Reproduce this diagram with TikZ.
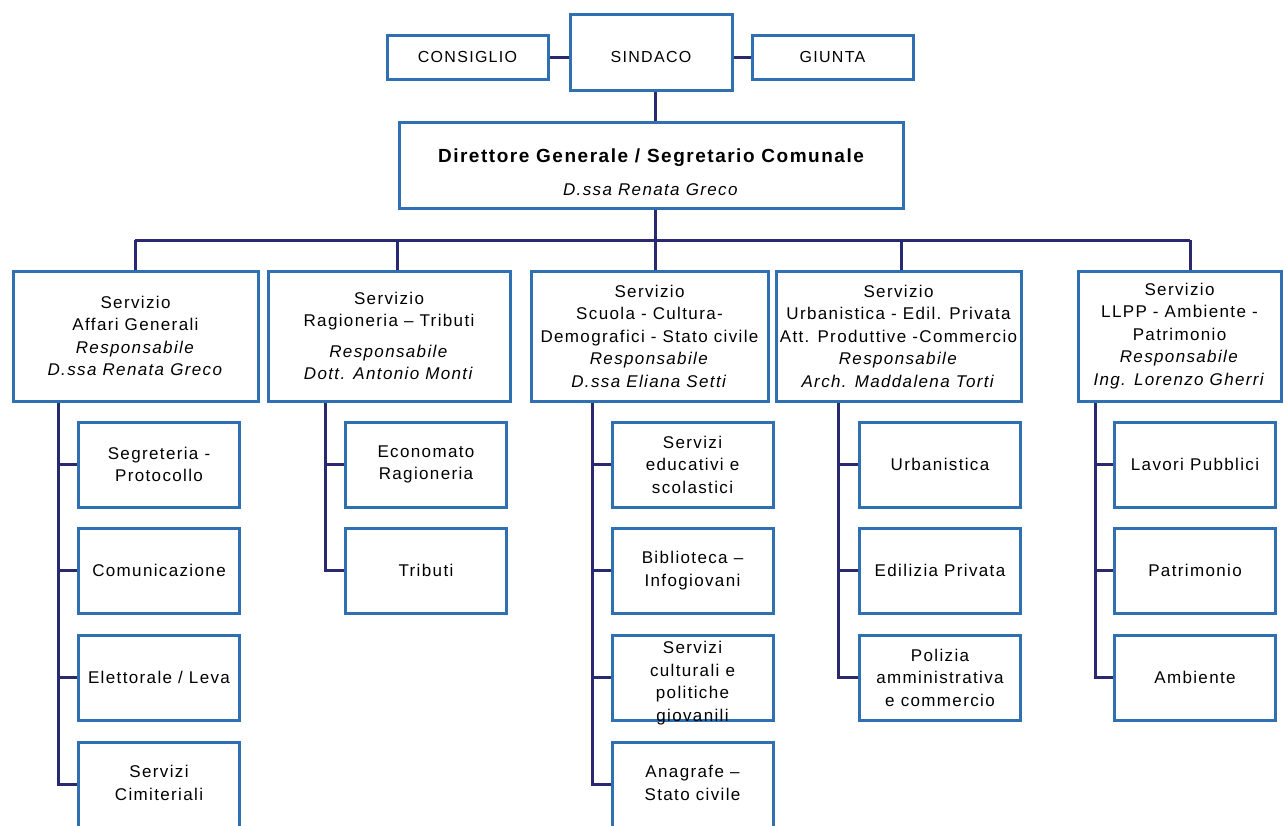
\documentclass[tikz,border=0pt]{standalone}
\usepackage{fontspec}
\setmainfont{Liberation Sans}[LetterSpace=8]
\usetikzlibrary{backgrounds}
\definecolor{boxblue}{RGB}{46,112,178}
\definecolor{linenavy}{RGB}{42,40,110}
\begin{document}
\begin{tikzpicture}[x=1pt,y=-1pt,
  box/.style={draw=boxblue, line width=3pt, fill=white, inner sep=1pt, align=center,
              font=\fontsize{17}{22.5}\selectfont},
  topbox/.style={box, font=\fontsize{16}{19}\selectfont},
  svc/.style={box, minimum height=130pt},
  sub/.style={box, minimum width=161pt, minimum height=85pt},
  conn/.style={draw=linenavy, line width=3pt}]
\useasboundingbox (0,0) rectangle (1284,825);
\clip (0,0) rectangle (1284,825);

% top row
\node[topbox, minimum width=161pt, minimum height=44pt] (consiglio) at (467.5,57) {CONSIGLIO};
\node[topbox, minimum width=162pt, minimum height=76pt] (sindaco) at (651,52) {\raisebox{-5pt}[\height][\depth]{SINDACO}};
\node[topbox, minimum width=161pt, minimum height=44pt] (giunta) at (832.5,57) {GIUNTA};

% director
\node[box, minimum width=504pt, minimum height=86pt] (dir) at (651,165)
  {\rule{0pt}{28pt}{\fontsize{19}{24}\selectfont\bfseries Direttore Generale / Segretario Comunale}\\[10pt]
   \textit{D.ssa Renata Greco}};

% services
\node[svc, minimum width=245pt] (s1) at (135.5,336)
  {Servizio\\Affari Generali\\\textit{Responsabile}\\\textit{D.ssa Renata Greco}};
\node[svc, minimum width=242pt] (s2) at (389,336)
  {Servizio\\Ragioneria – Tributi\\[8pt]\textit{Responsabile}\\\textit{Dott. Antonio Monti}};
\node[svc, minimum width=237pt] (s3) at (649.5,336)
  {Servizio\\Scuola - Cultura-\\Demografici - Stato civile\\\textit{Responsabile}\\\textit{D.ssa Eliana Setti}};
\node[svc, minimum width=245pt] (s4) at (898.5,336)
  {Servizio\\Urbanistica - Edil. Privata\\Att. Produttive -Commercio\\\textit{Responsabile}\\\textit{Arch. Maddalena Torti}};
\node[svc, minimum width=203pt] (s5) at (1179.5,336)
  {Servizio\\LLPP - Ambiente -\\Patrimonio\\\textit{Responsabile}\\\textit{Ing. Lorenzo Gherri}};

% column 1
\node[sub] (c11) at (159,464.5) {Segreteria -\\Protocollo};
\node[sub] (c12) at (159,570.5) {Comunicazione};
\node[sub] (c13) at (159,677.5) {Elettorale / Leva};
\node[sub] (c14) at (159,784.5) {\raisebox{5pt}{\begin{tabular}{@{}c@{}}Servizi\\Cimiteriali\end{tabular}}};
% column 2
\node[sub] (c21) at (426,464.5) {Economato\\Ragioneria};
\node[sub] (c22) at (426,570.5) {Tributi};
% column 3
\node[sub] (c31) at (692.5,464.5) {Servizi\\educativi e\\scolastici};
\node[sub] (c32) at (692.5,570.5) {Biblioteca –\\Infogiovani};
\node[sub] (c33) at (692.5,677.5) {\raisebox{-10pt}[0pt][0pt]{\begin{tabular}{@{}c@{}}Servizi\\culturali e\\politiche\\giovanili\end{tabular}}};
\node[sub] (c34) at (692.5,784.5) {\raisebox{5pt}{\begin{tabular}{@{}c@{}}Anagrafe –\\Stato civile\end{tabular}}};
% column 4
\node[sub] (c41) at (940,464.5) {Urbanistica};
\node[sub] (c42) at (940,570.5) {Edilizia Privata};
\node[sub] (c43) at (940,677.5) {Polizia\\amministrativa\\e commercio};
% column 5
\node[sub] (c51) at (1195,464.5) {Lavori Pubblici};
\node[sub] (c52) at (1195,570.5) {Patrimonio};
\node[sub] (c53) at (1195,677.5) {Ambiente};

\begin{scope}[on background layer]
\fill[white] (0,0) rectangle (1284,825);
\coordinate (mx) at (655,240);
\coordinate (b1) at (135,240);
\coordinate (b2) at (397,240);
\coordinate (b4) at (901,240);
\coordinate (b5) at (1190,240);
\draw[conn] (consiglio.east) -- (consiglio.east -| sindaco.west);
\draw[conn] (giunta.west) -- (giunta.west -| sindaco.east);
\draw[conn] (sindaco.south -| mx) -- (dir.north -| mx);
\draw[conn] (dir.south -| mx) -- (mx);
\draw[conn] (b1) -- (b5);
\draw[conn] (b1) -- (s1.north -| b1);
\draw[conn] (b2) -- (s2.north -| b2);
\draw[conn] (mx) -- (s3.north -| mx);
\draw[conn] (b4) -- (s4.north -| b4);
\draw[conn] (b5) -- (s5.north -| b5);
% child lines
\coordinate (l1) at (58,0);
\coordinate (l2) at (325,0);
\coordinate (l3) at (592,0);
\coordinate (l4) at (838,0);
\coordinate (l5) at (1095,0);
\draw[conn] (s1.south -| l1) |- (c14.west);
\foreach \c in {c11,c12,c13} \draw[conn] (\c.west -| l1) -- (\c.west);
\draw[conn] (s2.south -| l2) |- (c22.west);
\draw[conn] (c21.west -| l2) -- (c21.west);
\draw[conn] (s3.south -| l3) |- (c34.west);
\foreach \c in {c31,c32,c33} \draw[conn] (\c.west -| l3) -- (\c.west);
\draw[conn] (s4.south -| l4) |- (c43.west);
\foreach \c in {c41,c42} \draw[conn] (\c.west -| l4) -- (\c.west);
\draw[conn] (s5.south -| l5) |- (c53.west);
\foreach \c in {c51,c52} \draw[conn] (\c.west -| l5) -- (\c.west);
\end{scope}
\end{tikzpicture}
\end{document}
